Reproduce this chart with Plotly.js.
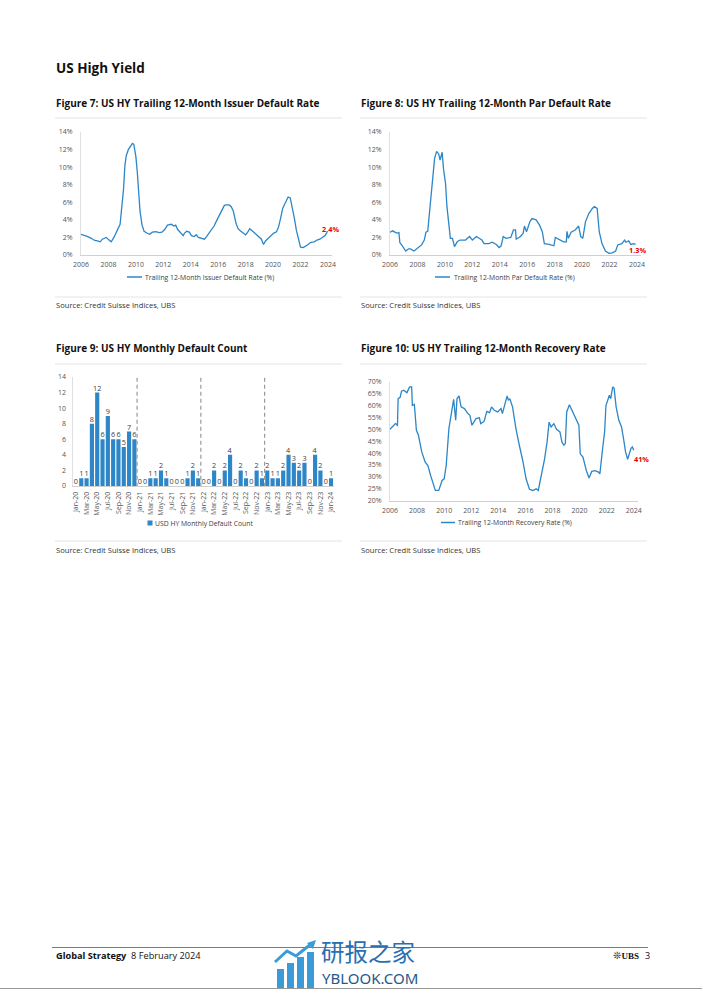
<!DOCTYPE html>
<html><head><meta charset="utf-8">
<script src="https://cdn.plot.ly/plotly-3.0.1.min.js"></script>
<style>html,body{margin:0;padding:0;background:#fff;} #page{width:702px;height:992px;}</style>
</head><body><div id="page"></div>
<script>
// ---------- DATA ----------
const issuerYears = [2006.0,2006.25,2006.5,2006.75,2007.0,2007.2,2007.4,2007.55,2007.7,2007.85,2008.0,2008.2,2008.4,2008.55,2008.7,2008.85,2009.0,2009.1,2009.2,2009.3,2009.45,2009.6,2009.75,2009.85,2010.0,2010.1,2010.2,2010.3,2010.45,2010.6,2010.8,2011.0,2011.2,2011.45,2011.7,2011.9,2012.1,2012.3,2012.45,2012.6,2012.75,2012.9,2013.05,2013.25,2013.45,2013.55,2013.7,2013.9,2014.05,2014.25,2014.4,2014.55,2014.75,2015.0,2015.15,2015.3,2015.5,2015.7,2015.85,2016.0,2016.15,2016.3,2016.45,2016.6,2016.8,2016.95,2017.1,2017.3,2017.45,2017.65,2017.85,2018.0,2018.15,2018.3,2018.45,2018.65,2018.85,2019.0,2019.15,2019.3,2019.45,2019.65,2019.85,2020.05,2020.25,2020.4,2020.55,2020.7,2020.85,2021.0,2021.1,2021.25,2021.4,2021.55,2021.7,2021.85,2022.0,2022.2,2022.4,2022.55,2022.75,2023.0,2023.2,2023.4,2023.6,2023.8,2023.95];
const issuerRate  = [2.35,2.25,2.1,1.9,1.65,1.6,1.5,1.8,1.9,2.0,1.75,1.5,2.0,2.6,3.0,3.5,5.5,7.5,10.2,11.3,12.0,12.3,12.7,12.6,11.2,9.5,7.5,5.0,3.4,2.7,2.5,2.35,2.6,2.65,2.55,2.6,2.9,3.4,3.45,3.5,3.3,3.4,2.9,2.5,2.2,2.5,2.7,2.6,2.2,2.1,2.3,2.0,1.9,1.8,2.1,2.4,2.8,3.3,3.8,4.3,4.7,5.2,5.65,5.7,5.7,5.5,5.0,3.6,3.0,2.7,2.45,2.3,2.6,3.0,2.8,2.5,2.2,2.0,1.8,1.2,1.6,1.9,2.2,2.5,2.65,3.2,4.2,5.3,5.8,6.3,6.6,6.5,5.5,4.2,2.8,1.7,0.9,0.85,1.0,1.2,1.45,1.5,1.7,1.8,2.0,2.25,2.6];

const parYears = [2006.0,2006.2,2006.35,2006.5,2006.65,2006.72,2006.85,2007.0,2007.15,2007.35,2007.5,2007.75,2008.0,2008.3,2008.5,2008.62,2008.75,2008.85,2009.0,2009.1,2009.25,2009.4,2009.55,2009.65,2009.8,2009.9,2010.05,2010.15,2010.25,2010.4,2010.55,2010.7,2010.9,2011.1,2011.5,2011.7,2011.8,2012.0,2012.3,2012.5,2012.7,2012.85,2013.2,2013.45,2013.75,2013.95,2014.1,2014.25,2014.45,2014.8,2015.0,2015.15,2015.2,2015.5,2015.7,2015.8,2015.95,2016.2,2016.35,2016.65,2016.9,2017.1,2017.25,2017.6,2017.95,2018.05,2018.4,2018.65,2018.85,2018.9,2019.0,2019.2,2019.5,2019.75,2019.9,2020.05,2020.25,2020.5,2020.75,2020.9,2021.1,2021.25,2021.45,2021.7,2021.95,2022.2,2022.45,2022.6,2022.9,2023.1,2023.2,2023.4,2023.55,2023.75,2023.9];
const parRate  = [2.6,2.75,2.6,2.5,2.55,1.4,1.15,0.75,0.45,0.7,0.7,0.45,0.75,1.15,1.7,2.6,2.7,4.5,6.5,9.0,11.0,11.8,11.5,10.8,11.7,9.8,8.1,5.5,3.8,1.9,1.9,0.95,1.5,1.7,1.7,1.9,2.1,1.7,2.1,1.9,1.7,1.3,1.3,1.45,1.2,0.85,1.05,2.1,1.9,2.0,2.85,2.85,1.8,2.1,2.45,3.3,2.65,3.8,4.15,4.0,3.4,2.65,1.3,1.2,1.05,2.0,1.7,1.5,1.5,2.7,1.9,2.6,2.85,3.3,2.1,1.9,3.8,4.75,5.3,5.5,5.3,2.65,1.3,0.45,0.2,0.25,0.45,1.15,1.3,1.7,1.45,1.6,1.2,1.3,1.2];

const recYears = [2006.0,2006.2,2006.4,2006.5,2006.55,2006.6,2006.75,2006.85,2007.0,2007.25,2007.45,2007.6,2007.65,2007.8,2007.95,2008.1,2008.35,2008.6,2008.8,2009.0,2009.2,2009.35,2009.6,2009.85,2010.0,2010.15,2010.35,2010.55,2010.7,2010.85,2010.95,2011.1,2011.25,2011.5,2011.75,2011.9,2012.05,2012.35,2012.6,2012.7,2012.95,2013.15,2013.35,2013.5,2013.7,2013.95,2014.2,2014.3,2014.5,2014.65,2014.75,2014.85,2015.05,2015.3,2015.55,2015.8,2016.05,2016.3,2016.55,2016.8,2016.95,2017.1,2017.4,2017.6,2017.75,2017.9,2018.1,2018.3,2018.55,2018.7,2018.85,2018.95,2019.05,2019.25,2019.5,2019.75,2019.95,2020.05,2020.25,2020.5,2020.7,2020.9,2021.15,2021.4,2021.5,2021.7,2021.85,2021.95,2022.1,2022.2,2022.3,2022.45,2022.55,2022.7,2022.9,2023.1,2023.25,2023.4,2023.55,2023.7,2023.8,2023.9,2024.0];
const recRate  = [50.0,51.4,52.4,52.0,51.4,62.9,63.4,66.0,66.4,65.4,67.8,67.8,60.0,60.5,49.6,47.5,40.4,36.2,34.8,30.6,26.4,24.3,24.3,28.5,29.2,34.8,50.3,57.3,62.6,53.8,62.9,64.0,59.4,58.7,56.6,55.9,51.7,54.5,54.8,52.4,53.3,57.5,57.0,59.4,58.0,57.3,58.7,56.6,60.8,64.0,62.2,62.9,59.4,50.3,43.3,37.0,29.2,24.8,24.3,25.0,24.3,28.5,37.0,44.6,53.0,51.0,52.4,50.0,48.9,44.6,43.3,44.0,57.3,60.3,57.3,54.5,51.7,39.7,38.3,32.7,29.5,32.3,32.6,32.0,31.3,41.8,48.9,60.0,62.2,64.3,62.9,67.8,67.3,59.4,53.8,51.0,46.0,40.4,37.4,39.7,42.0,42.6,41.2];

const months = ['Jan-20','Feb-20','Mar-20','Apr-20','May-20','Jun-20','Jul-20','Aug-20','Sep-20','Oct-20','Nov-20','Dec-20',
 'Jan-21','Feb-21','Mar-21','Apr-21','May-21','Jun-21','Jul-21','Aug-21','Sep-21','Oct-21','Nov-21','Dec-21',
 'Jan-22','Feb-22','Mar-22','Apr-22','May-22','Jun-22','Jul-22','Aug-22','Sep-22','Oct-22','Nov-22','Dec-22',
 'Jan-23','Feb-23','Mar-23','Apr-23','May-23','Jun-23','Jul-23','Aug-23','Sep-23','Oct-23','Nov-23','Dec-23','Jan-24'];
const defaultCounts = [0,1,1,8,12,6,9,6,6,5,7,6, 0,0,1,1,2,1,0,0,0,1,2,1, 0,0,2,0,2,4,0,2,1,0,2,1, 2,1,1,2,4,3,2,3,0,4,2,0, 1];

const yearTicks = [2006,2008,2010,2012,2014,2016,2018,2020,2022,2024];
const rateTicks = [0,2,4,6,8,10,12,14];
const recTicks = [20,25,30,35,40,45,50,55,60,65,70];
const countTicks = [0,2,4,6,8,10,12,14];

const lastIssuerLabel = '2.4%';
const lastParLabel = '1.3%';
const lastRecLabel = '41%';

// ---------- LAYOUT HELPERS ----------
const W = 702, H = 992;
const fx = p => p / W;
const fy = p => 1 - p / H;
const FONT = 'Open Sans, Noto Sans, sans-serif';
const LINE = '#2c86c7';
const TICKC = '#555555';
const TF = 7;

function xYear(d0, d1, perYear){
  return {domain:[fx(d0), fx(d1)], range:[2006, 2006 + (d1 - d0)/perYear], tickmode:'array', tickvals: yearTicks,
    ticktext: yearTicks.map(String),
    showline:true, linecolor:'#d0d0d0', linewidth:1, showgrid:false, zeroline:false,
    ticks:'outside', ticklen:3, tickcolor:'rgba(0,0,0,0)', tickfont:{size:TF, color:TICKC, family:FONT}};
}
function yAx(p0, p1, range, ticks, suffix){
  return {domain:[fy(p0), fy(p1)], range: range, tickmode:'array', tickvals: ticks, ticktext: ticks.map(v => v + suffix),
    showline:true, linecolor:'#e0e0e0', linewidth:1, showgrid:false, zeroline:false,
    ticks:'outside', ticklen:6, tickcolor:'rgba(0,0,0,0)', tickfont:{size:TF, color:TICKC, family:FONT}};
}

const traces = [
  {x: issuerYears, y: issuerRate, type:'scatter', mode:'lines', line:{color:LINE, width:1.3}, xaxis:'x', yaxis:'y', showlegend:false, hoverinfo:'skip'},
  {x: parYears, y: parRate, type:'scatter', mode:'lines', line:{color:LINE, width:1.3}, xaxis:'x2', yaxis:'y2', showlegend:false, hoverinfo:'skip'},
  {x: months, y: defaultCounts, type:'bar', marker:{color:LINE}, xaxis:'x3', yaxis:'y3', showlegend:false,
   texttemplate:'%{y}', textposition:'outside', constraintext:'none', cliponaxis:false,
   textfont:{size:7.3, color:'#404040', family:FONT}, hoverinfo:'skip'},
  {x: recYears, y: recRate, type:'scatter', mode:'lines', line:{color:LINE, width:1.3}, xaxis:'x4', yaxis:'y4', showlegend:false, hoverinfo:'skip'}
];

const ann = [];
function txt(t, x, y, size, opts){
  ann.push(Object.assign({text:t, xref:'paper', yref:'paper', x:fx(x), y:fy(y), xanchor:'left', yanchor:'middle',
    showarrow:false, font:{size:size, color:'#1a1a1a', family:FONT}}, opts||{}));
}
const TS = 10;
txt('<b>US High Yield</b>', 54, 68, 13.5, {font:{size:13.5, color:'#111', family:FONT}});
txt('<b>Figure 7: US HY Trailing 12-Month Issuer Default Rate</b>', 54, 103, TS, {font:{size:TS, color:'#111', family:FONT}});
txt('<b>Figure 8: US HY Trailing 12-Month Par Default Rate</b>', 359, 103, TS, {font:{size:TS, color:'#111', family:FONT}});
txt('<b>Figure 9: US HY Monthly Default Count</b>', 54, 348, TS, {font:{size:TS, color:'#111', family:FONT}});
txt('<b>Figure 10: US HY Trailing 12-Month Recovery Rate</b>', 359, 348, TS, {font:{size:TS, color:'#111', family:FONT}});
const srcFont = {size:7.6, color:'#333', family:FONT};
const SRC = 'Source: Credit Suisse Indices, UBS';
txt(SRC, 54, 305, 7.6, {font:srcFont});
txt(SRC, 359, 305, 7.6, {font:srcFont});
txt(SRC, 54, 550, 7.6, {font:srcFont});
txt(SRC, 359, 550, 7.6, {font:srcFont});
const legFont = {size:6.8, color:'#404040', family:FONT};
txt('Trailing 12-Month Issuer Default Rate (%)', 142.5, 277, 6.8, {font:legFont});
txt('Trailing 12-Month Par Default Rate (%)', 451.5, 277, 6.8, {font:legFont});
txt('USD HY Monthly Default Count', 152.5, 523, 6.8, {font:legFont});
txt('Trailing 12-Month Recovery Rate (%)', 455.5, 522.5, 6.8, {font:legFont});

// red last-value labels in data coordinates
ann.push({text:'<b>'+lastIssuerLabel+'</b>', xref:'x', yref:'y', x:issuerYears[issuerYears.length-1], y:issuerRate[issuerRate.length-1],
  xshift:3, yshift:3, showarrow:false, font:{size:7.3, color:'#e60000', family:FONT}});
ann.push({text:'<b>'+lastParLabel+'</b>', xref:'x2', yref:'y2', x:parYears[parYears.length-1], y:parRate[parRate.length-1],
  xshift:2, yshift:-6, showarrow:false, font:{size:7.3, color:'#e60000', family:FONT}});
ann.push({text:'<b>'+lastRecLabel+'</b>', xref:'x4', yref:'y4', x:recYears[recYears.length-1], y:recRate[recRate.length-1],
  xshift:8, yshift:-9, showarrow:false, font:{size:7.3, color:'#e60000', family:FONT}});

// footer
txt('<b>Global Strategy</b>  8 February 2024', 54, 955.5, 9.2, {font:{size:9.2, color:'#111', family:FONT}});
ann.push({text:'<span style="font-family:DejaVu Sans;font-size:10px">❊</span><b>UBS</b>', xref:'paper', yref:'paper', x:fx(641), y:fy(955.5), xanchor:'right', yanchor:'middle',
  showarrow:false, font:{size:9, color:'#111', family:'Liberation Serif, serif'}});
txt('3', 643, 955.5, 9, {font:{size:9, color:'#111', family:FONT}});
// watermark
txt('研报之家', 319, 950.5, 23.5, {font:{size:23.5, color:'#2a6fb0', family:'Noto Sans CJK SC'}});
txt('YBLOOK.COM', 320, 977.5, 15, {font:{size:15, color:'#24598c', family:'Noto Sans'}});

const shapes = [];
function hline(x0, x1, y, color, w){
  shapes.push({type:'line', xref:'paper', yref:'paper', x0:fx(x0), x1:fx(x1), y0:fy(y), y1:fy(y), line:{color:color, width:w}});
}
// separators
hline(55, 342, 118, '#e4e4e4', 1); hline(360, 647, 118, '#e4e4e4', 1);
hline(55, 342, 297, '#e4e4e4', 1); hline(360, 647, 297, '#e4e4e4', 1);
hline(55, 342, 364, '#e4e4e4', 1); hline(360, 647, 364, '#e4e4e4', 1);
hline(55, 342, 541, '#e4e4e4', 1); hline(360, 647, 541, '#e4e4e4', 1);
// legend keys
hline(127, 142, 277, LINE, 1.5);
hline(435, 450, 277, LINE, 1.5);
hline(441, 455, 522.5, LINE, 1.5);
shapes.push({type:'rect', xref:'paper', yref:'paper', x0:fx(147.5), x1:fx(152.5), y0:fy(525.5), y1:fy(520.5), fillcolor:LINE, line:{width:0}});
// year dividers in figure 9
[11.5, 23.5, 35.5].forEach(v => shapes.push({type:'line', xref:'x3', yref:'y3', x0:v, x1:v, y0:-0.1, y1:14.1,
  layer:'above', line:{color:'#9a9a9a', width:1.2, dash:'4px,3px'}}));
// footer lines
hline(52, 648, 947.5, '#7a7a7a', 1);
hline(0, 702, 988.5, '#9a9a9a', 1);
// watermark logo
[[277,969],[287,963],[297,957],[307,952]].forEach(b => shapes.push({type:'rect', xref:'paper', yref:'paper',
  x0:fx(b[0]), x1:fx(b[0]+7), y0:fy(988), y1:fy(b[1]), fillcolor:'#3b9bd8', line:{width:0}}));
shapes.push({type:'path', xref:'paper', yref:'paper', path:`M ${fx(275)} ${fy(962)} L ${fx(287)} ${fy(951)} L ${fx(296)} ${fy(956)} L ${fx(311)} ${fy(944)}`,
  line:{color:'#3b9bd8', width:3}});
shapes.push({type:'path', xref:'paper', yref:'paper', path:`M ${fx(316)} ${fy(940)} L ${fx(307)} ${fy(943)} L ${fx(313)} ${fy(949)} Z`,
  fillcolor:'#3b9bd8', line:{width:0}});

const layout = {
  width: W, height: H, margin:{l:0, r:0, t:0, b:0}, paper_bgcolor:'#fff', plot_bgcolor:'rgba(0,0,0,0)',
  font:{family:FONT}, showlegend:false, bargap:0.22,
  xaxis: Object.assign(xYear(81, 332, 13.72), {anchor:'y'}),
  yaxis: Object.assign(yAx(255, 132, [0,14], rateTicks, '%'), {anchor:'x'}),
  xaxis2: Object.assign(xYear(390, 641, 13.72), {anchor:'y2'}),
  yaxis2: Object.assign(yAx(255, 132, [0,14], rateTicks, '%'), {anchor:'x2'}),
  xaxis3: {domain:[fx(73.3), fx(333.7)], type:'category', range:[-0.5, 48.5], anchor:'y3',
    tickmode:'array', tickvals: months.filter((m,i) => i % 2 === 0), tickangle:-90, showline:true, linecolor:'#d0d0d0', linewidth:1,
    showgrid:false, ticks:'outside', ticklen:2, tickcolor:'rgba(0,0,0,0)', tickfont:{size:TF, color:TICKC, family:FONT}},
  yaxis3: Object.assign(yAx(486, 377, [0,14], countTicks, ''), {anchor:'x3', ticklen:5}),
  xaxis4: Object.assign(xYear(390, 638, 13.54), {anchor:'y4'}),
  yaxis4: Object.assign(yAx(500.7, 381.7, [20,70], recTicks, '%'), {anchor:'x4'}),
  annotations: ann, shapes: shapes
};

Plotly.newPlot('page', traces, layout, {staticPlot:true, displayModeBar:false});
</script></body></html>
